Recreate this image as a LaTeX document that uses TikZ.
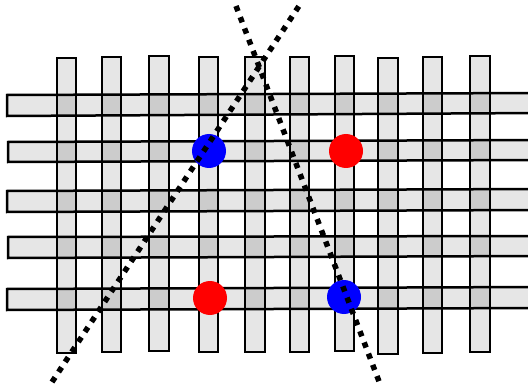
\documentclass[tikz,border=0pt]{standalone}
\begin{document}
\begin{tikzpicture}[x=1pt,y=-1pt,
  strip/.style={line width=2.5pt,draw=black},
  dotline/.style={line width=5.5pt,dash pattern=on 5.5pt off 6.5pt,black},
  reddot/.style={fill=red},
  bluedot/.style={fill=blue}]
\definecolor{lightg}{HTML}{E6E6E6}
\definecolor{darkg}{HTML}{CCCCCC}
\useasboundingbox (0,0) rectangle (528,385);
\clip (0,0) rectangle (528,385);
% vertical strips path
\def\vstrips{
  (57,58) rectangle (76,353)
  (102,57) rectangle (121,352)
  (149,56) rectangle (169,351)
  (199,57) rectangle (218,352)
  (245,57) rectangle (265,352)
  (290,57) rectangle (309,352)
  (335,56) rectangle (354,351)
  (378,58) rectangle (398,354)
  (423,57) rectangle (442,353)
  (470,56) rectangle (490,352)}
\def\hstrips{
  (540,93) -- (7,95) -- (7,116) -- (540,113)
  (540,140) -- (8,142) -- (8,162) -- (540,160)
  (540,189) -- (7,191) -- (7,212) -- (540,210)
  (540,236) -- (8,237) -- (8,258) -- (540,256)
  (540,287) -- (7,289) -- (7,310) -- (540,308)}
\def\hfill{
  (540,93) -- (7,95) -- (7,116) -- (540,113) -- cycle
  (540,140) -- (8,142) -- (8,162) -- (540,160) -- cycle
  (540,189) -- (7,191) -- (7,212) -- (540,210) -- cycle
  (540,236) -- (8,237) -- (8,258) -- (540,256) -- cycle
  (540,287) -- (7,289) -- (7,310) -- (540,308) -- cycle}
% fills
\fill[lightg] \vstrips;
\fill[lightg] \hfill;
\begin{scope}
  \clip \vstrips;
  \fill[darkg] \hfill;
\end{scope}
% outlines
\draw[strip] \vstrips;
\draw[strip] \hstrips;
% circles
\fill[bluedot] (209,151) circle (17);
\fill[reddot] (346,151) circle (17);
\fill[reddot] (210,298) circle (17);
\fill[bluedot] (344,297) circle (17);
% dotted lines
\coordinate (a1) at (52,382);
\coordinate (a2) at (299,6);
\coordinate (b1) at (236,6);
\coordinate (b2) at (380,384);
\draw[dotline] (a1) -- (a2);
\draw[dotline] (b1) -- (b2);
\end{tikzpicture}
\end{document}
